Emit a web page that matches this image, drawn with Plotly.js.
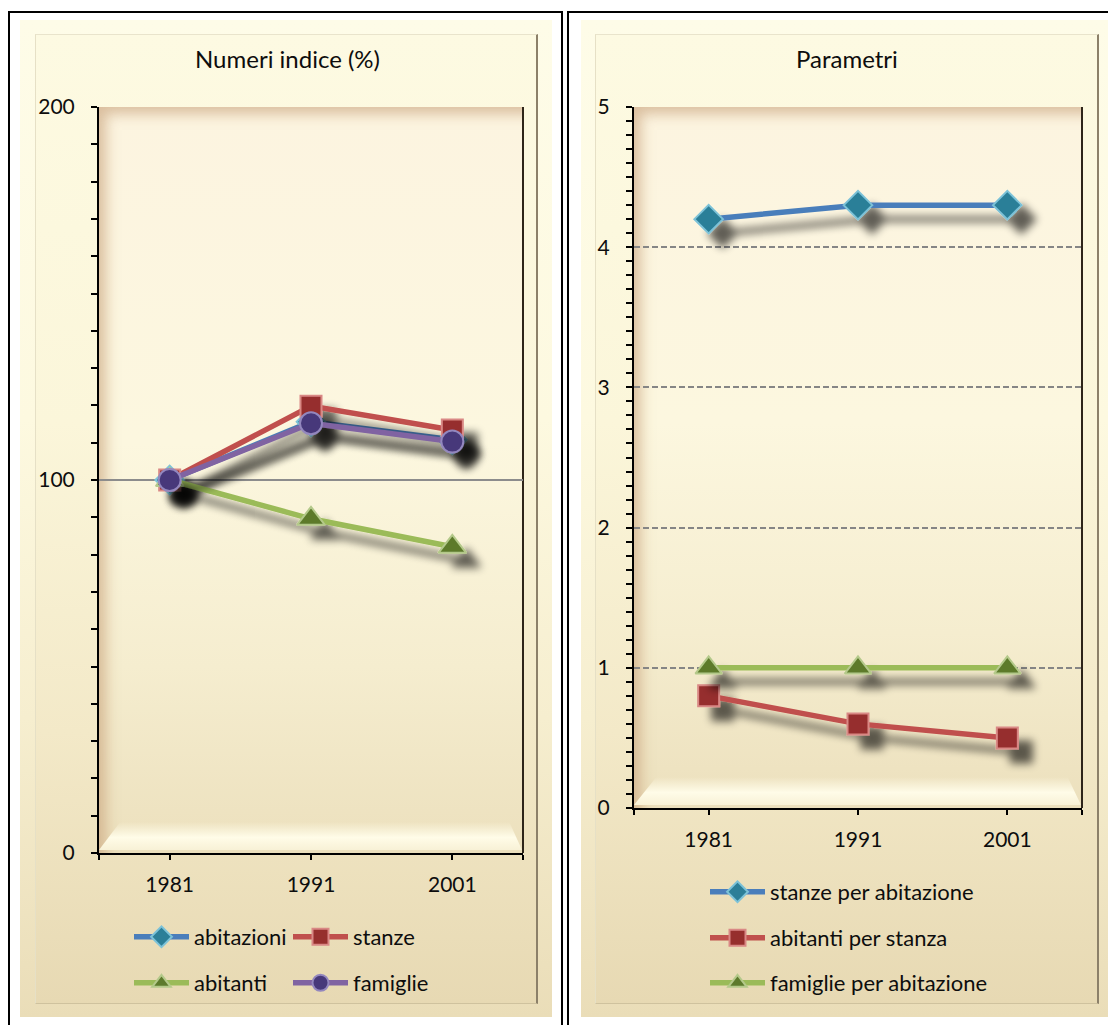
<!DOCTYPE html>
<html>
<head>
<meta charset="utf-8">
<script src="https://cdn.plot.ly/plotly-3.0.1.min.js"></script>
<style>
  body { margin: 0; background: #fff; }
  #stage { position: relative; width: 1108px; height: 1025px; overflow: hidden; background: #fff; }
  .frame { position: absolute; border: 2px solid #000; border-bottom: none; }
  .cream { position: absolute;
    background: linear-gradient(to bottom, #FEFCE8 0%, #FDF9E0 40%, #F6EECF 70%, #EADDB8 100%); }
  .inner { position: absolute;
    border-top: 1px solid #E9E4CC; border-left: 1px solid #E6E0C6;
    border-right: 2px solid #8C8069; border-bottom: 1px solid #CFC29E;
    background: linear-gradient(to bottom, #FDFAE2 0%, #FBF6DA 40%, #F3E9C8 72%, #E7D9B3 100%); }
  .plotbg { position: absolute; border-right: 2px solid #2E2519; box-sizing: border-box;
    background: linear-gradient(to bottom, #FCF4E0 0%, #FCF7DF 45%, #F5EDCF 75%, #ECE0BD 100%);
    box-shadow: inset 11px 11px 13px -4px rgba(196, 156, 116, 0.6); }
  .plotbg .hl { position: absolute; left: 0; right: 0; bottom: 3px; height: 28px;
    background: linear-gradient(to bottom, rgba(255,252,232,0) 0%, #FFFCE8 55%, #F8F1D6 100%);
    clip-path: polygon(5% 0, 97% 0, 100% 100%, 0 100%); }
  #chart { position: absolute; left: 0; top: 0; width: 1108px; height: 1025px; }
</style>
</head>
<body>
<svg width="0" height="0" style="position:absolute">
  <defs>
    <filter id="dropShade" filterUnits="userSpaceOnUse" x="-200" y="-200" width="2000" height="2000">
      <feGaussianBlur in="SourceAlpha" stdDeviation="4"/>
      <feOffset dx="14" dy="14" result="off"/>
      <feComponentTransfer>
        <feFuncA type="linear" slope="0.62"/>
      </feComponentTransfer>
      <feMerge>
        <feMergeNode/>
        <feMergeNode in="SourceGraphic"/>
      </feMerge>
    </filter>
  </defs>
</svg>
<div id="stage">
  <div class="frame" style="left:8px; top:11px; width:551px; height:1100px;"></div>
  <div class="frame" style="left:567px; top:11px; width:600px; height:1100px;"></div>
  <div class="cream" style="left:20px; top:20px; width:532px; height:997px;"></div>
  <div class="cream" style="left:581px; top:20px; width:532px; height:997px;"></div>
  <div class="inner" style="left:35px; top:34px; width:500px; height:968px;"></div>
  <div class="inner" style="left:595px; top:34px; width:501px; height:968px;"></div>
  <div class="plotbg" style="left:99px; top:107px; width:425px; height:746px;"><div class="hl"></div></div>
  <div class="plotbg" style="left:634px; top:107px; width:449px; height:701px;"><div class="hl"></div></div>
  <div id="chart"></div>
</div>
<script>
// Census years (shared category axis)
const years = [1981, 1991, 2001];

// Index numbers, 1981 = 100
const abitazioni = [100, 115.6, 110.8];
const stanze     = [100, 119.8, 113.4];
const abitanti   = [100, 89.6, 82.1];
const famiglie   = [100, 115.2, 110.3];

// Ratios
const stanzePerAbitazione   = [4.2, 4.3, 4.3];
const abitantiPerStanza     = [0.8, 0.6, 0.5];
const famigliePerAbitazione = [1.0, 1.0, 1.0];

// Axis ticks
const indiceTicks = [0, 100, 200];
const parametriTicks = [0, 1, 2, 3, 4, 5];
const yearEdges = [1976, 2006];

const W = 1108, H = 1025;
const px = v => v / W;
const py = v => 1 - v / H;
const FONT = 'Lato, "Noto Sans", "DejaVu Sans", sans-serif';
const TXT = '#0d0d0d';

const C = {
  blue: '#4A7EBB', red: '#C0504D', green: '#9BBB59', purple: '#8064A2'
};

function series(x, y, name, color, sym, fill, edge, size, xa, ya, leg) {
  return {
    type: 'scatter', mode: 'lines+markers', x: x, y: y, name: name,
    xaxis: xa, yaxis: ya, legend: leg,
    line: { color: color, width: 5.5 },
    marker: { symbol: sym, size: size, color: fill, line: { color: edge, width: 2 } },
    hoverinfo: 'x+y+name'
  };
}

const traces = [
  series(years, abitazioni, 'abitazioni', C.blue, 'diamond', '#2C7F98', '#7CC2D8', 22, 'x', 'y', 'legend'),
  series(years, stanze, 'stanze', C.red, 'square', '#962F2D', '#D98885', 21, 'x', 'y', 'legend2'),
  series(years, abitanti, 'abitanti', C.green, 'triangle-up', '#5D7A2C', '#B4C98A', 24, 'x', 'y', 'legend3'),
  series(years, famiglie, 'famiglie', C.purple, 'circle', '#47397A', '#9387BE', 22, 'x', 'y', 'legend4'),
  series(years, stanzePerAbitazione, 'stanze per abitazione', C.blue, 'diamond', '#2C7F98', '#7CC2D8', 22, 'x2', 'y2', 'legend5'),
  series(years, abitantiPerStanza, 'abitanti per stanza', C.red, 'square', '#962F2D', '#D98885', 21, 'x2', 'y2', 'legend6'),
  series(years, famigliePerAbitazione, 'famiglie per abitazione', C.green, 'triangle-up', '#5D7A2C', '#B4C98A', 23, 'x2', 'y2', 'legend7')
];

const tickFont = { family: FONT, size: 21, color: TXT };

function xAxis(domain, anchor) {
  return {
    domain: domain, anchor: anchor, range: [yearEdges[0], yearEdges[1]],
    tickmode: 'array', tickvals: years, ticktext: years.map(String),
    ticks: 'outside', ticklen: 5, tickwidth: 2, tickcolor: '#000',
    minor: { tickmode: 'array', tickvals: yearEdges, ticks: 'outside', ticklen: 5, tickwidth: 2, tickcolor: '#000' },
    showline: true, linecolor: '#000', linewidth: 2,
    showgrid: false, zeroline: false, fixedrange: true,
    tickfont: tickFont, ticklabelstandoff: 7
  };
}
function xCross(over) {
  return {
    overlaying: over, anchor: over === 'x' ? 'y' : 'y2',
    range: [yearEdges[0], yearEdges[1]], tickmode: 'array', tickvals: years,
    ticks: 'inside', ticklen: 5, tickwidth: 2, tickcolor: '#000',
    minor: { tickmode: 'array', tickvals: yearEdges, ticks: 'inside', ticklen: 5, tickwidth: 2, tickcolor: '#000' },
    showticklabels: false, showline: false, showgrid: false, zeroline: false, fixedrange: true
  };
}

const layout = {
  width: W, height: H,
  margin: { l: 0, r: 0, t: 0, b: 0, pad: 0 },
  paper_bgcolor: 'rgba(0,0,0,0)', plot_bgcolor: 'rgba(0,0,0,0)',
  font: { family: FONT, size: 21, color: TXT },
  showlegend: true,
  xaxis: xAxis([px(99), px(523)], 'y'),
  xaxis2: xAxis([px(634), px(1082)], 'y2'),
  xaxis3: xCross('x'),
  xaxis4: xCross('x2'),
  yaxis: {
    domain: [py(853), py(107)], anchor: 'x', range: [0, 200],
    tickmode: 'array', tickvals: indiceTicks,
    ticks: 'outside', ticklen: 6, tickwidth: 2, tickcolor: '#000',
    minor: { dtick: 10, ticks: 'outside', ticklen: 6, tickwidth: 2, tickcolor: '#000' },
    showline: true, linecolor: '#000', linewidth: 2,
    showgrid: true, gridcolor: '#8C8C8C', gridwidth: 1.5, zeroline: false, fixedrange: true,
    tickfont: tickFont, ticklabelstandoff: 12
  },
  yaxis3: {
    overlaying: 'y', anchor: 'x', side: 'left', range: [0, 200],
    tickmode: 'array', tickvals: indiceTicks,
    ticks: 'inside', ticklen: 6, tickwidth: 2, tickcolor: '#000',
    minor: { dtick: 10, ticks: 'inside', ticklen: 6, tickwidth: 2, tickcolor: '#000' },
    showticklabels: false, showline: false, showgrid: false, zeroline: false, fixedrange: true
  },
  yaxis2: {
    domain: [py(808), py(107)], anchor: 'x2', range: [0, 5],
    tickmode: 'array', tickvals: parametriTicks,
    ticks: 'outside', ticklen: 6, tickwidth: 2, tickcolor: '#000',
    minor: { dtick: 0.1, ticks: 'outside', ticklen: 6, tickwidth: 2, tickcolor: '#000' },
    showline: true, linecolor: '#000', linewidth: 2,
    showgrid: true, gridcolor: '#858585', gridwidth: 1.5, griddash: '6px,3px',
    zeroline: false, fixedrange: true,
    tickfont: tickFont, ticklabelstandoff: 12
  },
  yaxis4: {
    overlaying: 'y2', anchor: 'x2', side: 'left', range: [0, 5],
    tickmode: 'array', tickvals: parametriTicks,
    ticks: 'inside', ticklen: 6, tickwidth: 2, tickcolor: '#000',
    minor: { dtick: 0.1, ticks: 'inside', ticklen: 6, tickwidth: 2, tickcolor: '#000' },
    showticklabels: false, showline: false, showgrid: false, zeroline: false, fixedrange: true
  },
  annotations: [
    { text: 'Numeri indice (%)', xref: 'paper', yref: 'paper', x: px(287), y: py(58),
      xanchor: 'center', yanchor: 'middle', showarrow: false, font: { family: FONT, size: 24, color: TXT } },
    { text: 'Parametri', xref: 'paper', yref: 'paper', x: px(847), y: py(58),
      xanchor: 'center', yanchor: 'middle', showarrow: false, font: { family: FONT, size: 24, color: TXT } }
  ]
};

// one legend box per entry so each sits at its own spot under the plots
const legendSpots = [
  [129, 937], [288, 937], [129, 983], [288, 983],
  [705, 892], [705, 938], [705, 983]
];
legendSpots.forEach(function (p, i) {
  const key = i === 0 ? 'legend' : 'legend' + (i + 1);
  layout[key] = {
    x: px(p[0]), y: py(p[1]), xanchor: 'left', yanchor: 'middle',
    bgcolor: 'rgba(0,0,0,0)', borderwidth: 0, itemwidth: 55,
    font: { family: FONT, size: 22, color: TXT }, itemclick: false, itemdoubleclick: false
  };
});

Plotly.newPlot('chart', traces, layout, { displayModeBar: false }).then(function (gd) {
  gd.querySelectorAll('.scatterlayer .trace').forEach(function (g) {
    g.setAttribute('filter', 'url(#dropShade)');
  });
});
</script>
</body>
</html>
